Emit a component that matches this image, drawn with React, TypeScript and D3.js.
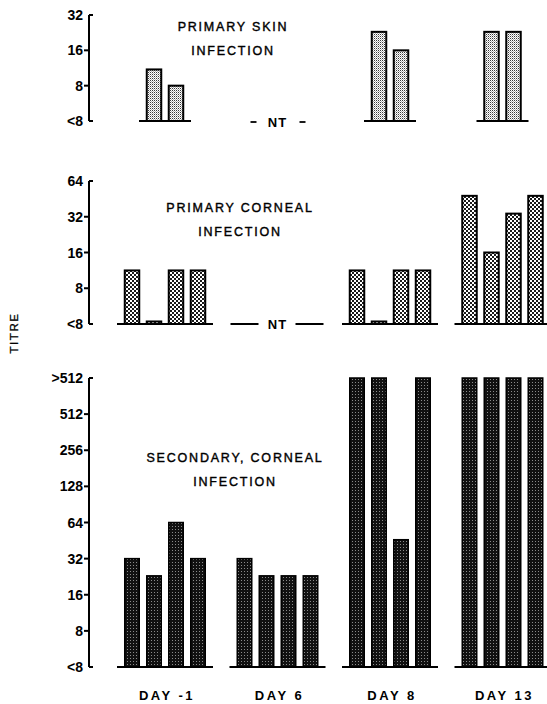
import React from "react";
import * as d3 from "d3";

// ---- Data ----
const days = ["DAY -1", "DAY 6", "DAY 8", "DAY 13"];

// null = not tested (NT)
const skinValues: (number[] | null)[] = [[11, 8], null, [23, 16], [23, 23]];
const primaryCornealValues: (number[] | null)[] = [
  [11.3, 4.2, 11.3, 11.3],
  null,
  [11.3, 4.2, 11.3, 11.3],
  [48, 16, 34, 48],
];
const secondaryCornealValues: (number[] | null)[] = [
  [32, 23, 64, 32],
  [32, 23, 23, 23],
  [1024, 1024, 46, 1024],
  [1024, 1024, 1024, 1024],
];

const skinTicks = [4, 8, 16, 32];
const skinTickLabels = ["<8", "8", "16", "32"];
const primaryTicks = [4, 8, 16, 32, 64];
const primaryTickLabels = ["<8", "8", "16", "32", "64"];
const secondaryTicks = [4, 8, 16, 32, 64, 128, 256, 512, 1024];
const secondaryTickLabels = ["<8", "8", "16", "32", "64", "128", "256", "512", ">512"];

const skinTitle = ["PRIMARY SKIN", "INFECTION"];
const primaryTitle = ["PRIMARY CORNEAL", "INFECTION"];
const secondaryTitle = ["SECONDARY, CORNEAL", "INFECTION"];

const yAxisLabel = "TITRE";
const ntLabel = "NT";

// ---- Layout ----
const W = 547;
const H = 704;
const AXIS_X = 89;
const FONT = "'Liberation Sans', Arial, Helvetica, sans-serif";
const PITCH = 22;
const BAR_W = 14.5;

const xGroup = d3.scaleBand<string>().domain(days).range([108.75, 558.75]).padding(0);
const groupCenter = (d: string) => (xGroup(d) as number) + xGroup.bandwidth() / 2;

type Panel = {
  values: (number[] | null)[];
  ticks: number[];
  tickLabels: string[];
  title: string[];
  range: [number, number];
  titleX: number;
  titleY: number;
  pattern: string;
  ntStyle: "dash" | "line";
  stroke: number;
};

const panels: Panel[] = [
  {
    values: skinValues,
    ticks: skinTicks,
    tickLabels: skinTickLabels,
    title: skinTitle,
    range: [121, 15],
    titleX: 233,
    titleY: 31,
    pattern: "url(#patLight)",
    ntStyle: "dash",
    stroke: 2,
  },
  {
    values: primaryCornealValues,
    ticks: primaryTicks,
    tickLabels: primaryTickLabels,
    title: primaryTitle,
    range: [324, 181],
    titleX: 240,
    titleY: 212,
    pattern: "url(#patMid)",
    ntStyle: "line",
    stroke: 2,
  },
  {
    values: secondaryCornealValues,
    ticks: secondaryTicks,
    tickLabels: secondaryTickLabels,
    title: secondaryTitle,
    range: [667, 378],
    titleX: 235,
    titleY: 462,
    pattern: "url(#patDark)",
    ntStyle: "line",
    stroke: 1.5,
  },
];

const boldText = {
  fontFamily: FONT,
  fontWeight: "bold" as const,
};

function PanelView({ p }: { p: Panel }) {
  const y = d3
    .scaleLog()
    .base(2)
    .domain([p.ticks[0], p.ticks[p.ticks.length - 1]])
    .range(p.range);
  const y0 = p.range[0];
  const yTop = p.range[1];
  return (
    <g>
      {/* axis */}
      <line x1={AXIS_X} x2={AXIS_X} y1={yTop} y2={y0} stroke="#000" strokeWidth={2} />
      {p.ticks.map((t, i) => {
        const ty = y(t);
        const end = i === 0 || i === p.ticks.length - 1;
        return (
          <g key={i}>
            <line
              x1={AXIS_X}
              x2={end ? AXIS_X + 4 : AXIS_X - 5}
              y1={ty}
              y2={ty}
              stroke="#000"
              strokeWidth={2}
            />
            <text
              x={AXIS_X - 6}
              y={ty}
              dy="0.36em"
              textAnchor="end"
              {...boldText}
              fontSize={14}
            >
              {p.tickLabels[i]}
            </text>
          </g>
        );
      })}
      {/* title */}
      {p.title.map((line, i) => (
        <text
          key={i}
          x={p.titleX}
          y={p.titleY + i * 23.5}
          textAnchor="middle"
          fontFamily={FONT}
          fontSize={12.5}
          letterSpacing={1.8}
          stroke="#000"
          strokeWidth={0.4}
        >
          {line}
        </text>
      ))}
      {/* groups */}
      {days.map((d, gi) => {
        const cx = groupCenter(d);
        const vals = p.values[gi];
        if (!vals) {
          if (p.ntStyle === "dash") {
            return (
              <g key={d}>
                <line x1={cx - 27} x2={cx - 21} y1={y0 + 1} y2={y0 + 1} stroke="#000" strokeWidth={1.8} />
                <line x1={cx + 22} x2={cx + 28} y1={y0 + 1} y2={y0 + 1} stroke="#000" strokeWidth={1.8} />
                <text x={cx} y={y0 + 1} dy="0.36em" textAnchor="middle" {...boldText} fontSize={13} letterSpacing={1}>
                  {ntLabel}
                </text>
              </g>
            );
          }
          return (
            <g key={d}>
              <line x1={cx - 47} x2={cx - 19} y1={y0} y2={y0} stroke="#000" strokeWidth={2} />
              <line x1={cx + 18} x2={cx + 46} y1={y0} y2={y0} stroke="#000" strokeWidth={2} />
              <text x={cx} y={y0} dy="0.36em" textAnchor="middle" {...boldText} fontSize={13} letterSpacing={1}>
                {ntLabel}
              </text>
            </g>
          );
        }
        const n = vals.length;
        const half = (n * PITCH) / 2 + 4;
        return (
          <g key={d}>
            {vals.map((v, i) => {
              const bx = cx + (i - (n - 1) / 2) * PITCH - BAR_W / 2;
              const by = y(v);
              return (
                <rect
                  key={i}
                  x={bx}
                  y={by}
                  width={BAR_W}
                  height={Math.max(0, y0 - by)}
                  fill={p.pattern}
                  stroke="#000"
                  strokeWidth={p.stroke}
                />
              );
            })}
            <line x1={cx - half} x2={cx + half} y1={y0} y2={y0} stroke="#000" strokeWidth={2} />
          </g>
        );
      })}
    </g>
  );
}

export default function App() {
  return (
    <svg
      width={W}
      height={H}
      viewBox={`0 0 ${W} ${H}`}
      style={{ position: "absolute", left: 0, top: 0, background: "#fff" }}
    >
      <defs>
        <pattern id="patLight" width={2} height={2} patternUnits="userSpaceOnUse">
          <rect width={2} height={2} fill="#fff" />
          <rect x={0} y={0} width={1} height={1} fill="#3a3a3a" />
          <rect x={1} y={1} width={1} height={1} fill="#b0b0b0" />
        </pattern>
        <pattern id="patMid" width={4} height={4} patternUnits="userSpaceOnUse">
          <rect width={4} height={4} fill="#fff" />
          <rect x={0} y={0} width={2} height={2} fill="#1a1a1a" />
          <rect x={2} y={2} width={2} height={2} fill="#1a1a1a" />
        </pattern>
        <pattern id="patDark" width={3} height={3} patternUnits="userSpaceOnUse">
          <rect width={3} height={3} fill="#111" />
          <rect x={1} y={1} width={1} height={1} fill="#8a8a8a" />
        </pattern>
      </defs>
      <rect width={W} height={H} fill="#fff" />
      {panels.map((p, i) => (
        <PanelView key={i} p={p} />
      ))}
      <text
        transform="translate(18,333) rotate(-90)"
        textAnchor="middle"
        fontFamily={FONT}
        fontSize={11.5}
        letterSpacing={1.6}
        stroke="#000"
        strokeWidth={0.3}
      >
        {yAxisLabel}
      </text>
      {days.map((d) => (
        <text
          key={d}
          x={groupCenter(d) + 2}
          y={700}
          textAnchor="middle"
          {...boldText}
          fontSize={13}
          letterSpacing={2.5}
        >
          {d}
        </text>
      ))}
    </svg>
  );
}
